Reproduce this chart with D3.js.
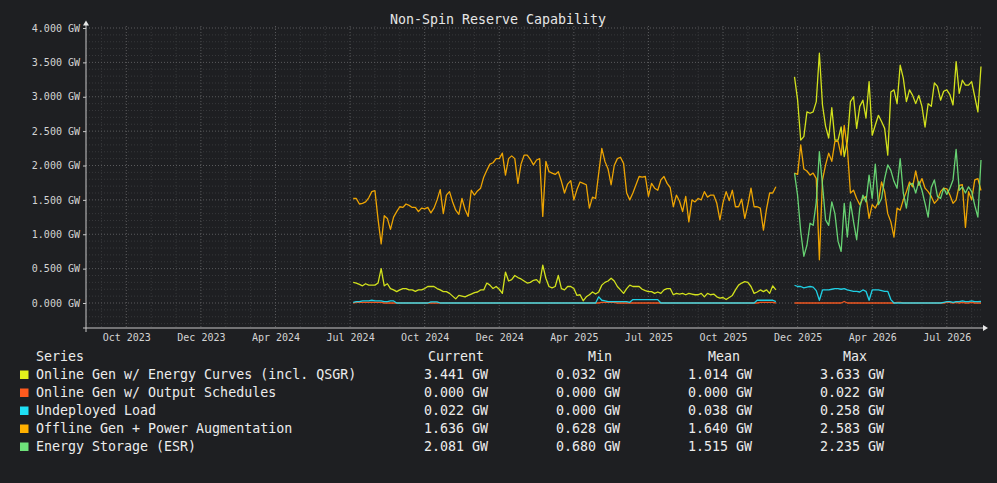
<!DOCTYPE html>
<html><head><meta charset="utf-8">
<script src="https://cdn.jsdelivr.net/npm/d3@7"></script>
<style>body{margin:0;background:#1e1f22;}svg{display:block}</style>
</head><body><svg id="c" width="997" height="483"></svg>
<script>
// ---------- DATA ----------
const chartTitle = "Non-Spin Reserve Capability";
const tickLabels = ["Oct 2023","Dec 2023","Apr 2024","Jul 2024","Oct 2024","Dec 2024","Apr 2025","Jul 2025","Oct 2025","Dec 2025","Apr 2026","Jul 2026"];
const seriesNames = ["Online Gen w/ Energy Curves (incl. QSGR)","Online Gen w/ Output Schedules","Undeployed Load","Offline Gen + Power Augmentation","Energy Storage (ESR)"];
const seriesColors = ["#e2f21c","#ff5a1e","#1fe0f5","#ffb000","#6ee27a"];
const seg1Start = 73;   // sample index of first point of first data block
const seg2Start = 215;  // sample index of first point of second data block

const onlineEnergy1 = [
0.30,0.29,0.27,0.25,0.28,0.26,0.26,0.26,0.29,0.50,
0.25,0.28,0.21,0.19,0.165,0.19,0.21,0.21,0.19,0.19,
0.17,0.19,0.19,0.21,0.24,0.24,0.24,0.21,0.19,0.165,
0.165,0.14,0.10,0.06,0.11,0.10,0.09,0.11,0.13,0.15,
0.16,0.19,0.19,0.29,0.26,0.21,0.24,0.20,0.14,0.45,
0.32,0.34,0.40,0.37,0.35,0.32,0.29,0.30,0.33,0.34,
0.29,0.55,0.36,0.24,0.22,0.24,0.40,0.21,0.19,
0.24,0.24,0.21,0.11,0.12,0.032,0.09,0.12,0.16,0.13,
0.16,0.26,0.30,0.32,0.36,0.32,0.24,0.19,0.14,0.21,
0.26,0.24,0.24,0.24,0.20,0.18,0.165,0.165,0.14,0.16,
0.14,0.19,0.21,0.21,0.12,0.14,0.13,0.14,0.12,0.14,
0.13,0.12,0.12,0.14,0.09,0.14,0.12,0.13,0.09,0.07,
0.08,0.05,0.08,0.11,0.19,0.26,0.29,0.31,0.30,0.24,
0.14,0.16,0.19,0.165,0.19,0.14,0.25,0.19];
const onlineEnergy2 = [
3.29,2.95,2.37,2.42,2.78,2.76,2.78,2.93,3.633,2.88,
2.57,2.40,2.84,2.37,2.37,2.56,2.13,2.35,2.93,3.00,
2.54,2.86,2.95,2.69,3.22,2.44,2.59,2.73,2.64,2.54,
2.15,3.07,3.10,2.90,3.46,3.27,2.93,3.10,3.02,2.90,
3.02,2.86,2.56,2.90,2.86,3.20,3.15,2.95,3.08,3.10,
3.03,2.88,3.51,3.05,3.24,3.17,3.17,3.22,3.00,2.78,3.441];

const outputSched1 = [
0,0.01,0.01,0.01,0.01,0.01,0.01,0.01,0.01,0.01,
0,0,0,0,0,0,0,0,0,0,
0,0,0,0,0,0,0,0,0,0,
0,0,0,0,0,0,0,0,0,0,
0,0,0,0,0,0,0,0,0,0,
0,0,0,0,0,0,0,0,0,0,
0,0,0,0,0,0,0,0,0,
0,0,0,0,0,0,0,0,0,0,
0,0.01,0.01,0.01,0.01,0.01,0,0,0,0,
0,0,0,0,0,0,0,0,0,0,
0,0,0,0,0,0,0,0,0,0,
0,0,0,0,0,0,0,0,0,0,
0,0,0,0,0,0,0,0,0,0,
0,0,0.01,0.01,0.01,0.01,0.01,0];
const outputSched2 = [
0,0,0,0,0,0,0,0,0,0,
0,0,0,0,0,0,0.022,0,0,0,
0,0,0,0,0,0,0,0,0,0,
0,0,0,0.01,0.01,0,0,0,0,0,
0,0,0,0,0,0,0,0,0,0.01,
0.01,0,0.01,0,0.01,0,0,0.01,0,0,0];

const undeployed1 = [
0.01,0.02,0.02,0.03,0.03,0.03,0.04,0.03,0.03,0.03,
0.02,0.02,0.03,0.03,0,0,0,0,0,0,
0,0,0,0,0,0.015,0.015,0.015,0,0,
0,0,0,0,0,0,0,0,0,0,
0,0,0,0,0,0,0,0,0,0,
0,0,0,0,0,0,0,0,0,0,
0,0,0,0,0,0,0,0,0,
0,0,0,0,0,0,0,0,0,0,
0.09,0.04,0.03,0.02,0.02,0.02,0.02,0.02,0.02,0.02,
0.01,0.05,0.05,0.05,0.05,0.05,0.05,0.05,0.05,0.05,
0,0,0,0,0,0,0,0,0,0,
0,0,0,0,0,0,0,0,0,0,
0,0,0,0,0,0,0,0,0,0,
0,0.04,0.04,0.04,0.04,0.04,0.04,0.02];
const undeployed2 = [
0.258,0.24,0.24,0.22,0.23,0.24,0.23,0.18,0.04,0.19,
0.19,0.19,0.20,0.21,0.21,0.20,0.21,0.19,0.18,0.17,
0.17,0.16,0.19,0.17,0.04,0.19,0.19,0.19,0.18,0.17,
0.17,0.05,0,0,0,0,0,0,0,0,
0,0,0,0,0,0,0,0,0.01,0.02,
0.02,0.01,0.02,0.02,0.03,0.02,0.02,0.03,0.02,0.02,0.022];

const offline1 = [
1.52,1.52,1.44,1.45,1.47,1.53,1.62,1.635,1.22,0.86,
1.27,1.23,1.07,1.25,1.33,1.40,1.39,1.44,1.42,1.39,
1.39,1.33,1.38,1.37,1.39,1.31,1.38,1.50,1.65,1.30,
1.57,1.62,1.47,1.35,1.29,1.52,1.36,1.26,1.64,1.57,
1.63,1.67,1.83,1.93,2.02,2.04,2.10,2.10,2.18,1.86,
2.10,2.14,2.10,1.74,2.02,2.15,2.15,2.09,2.01,2.08,
2.10,1.26,2.06,1.91,1.89,1.87,1.91,1.77,1.60,
1.73,1.78,1.50,1.65,1.76,1.74,1.72,1.38,1.54,1.52,
1.89,2.25,2.06,1.95,1.72,2.00,2.10,2.12,2.03,1.60,
1.50,1.60,1.72,1.84,1.83,1.84,1.55,1.74,1.67,1.64,
1.79,1.84,1.74,1.68,1.40,1.57,1.48,1.33,1.55,1.18,
1.50,1.47,1.52,1.50,1.62,1.54,1.57,1.57,1.45,1.21,
1.46,1.62,1.49,1.64,1.40,1.40,1.51,1.23,1.43,1.67,
1.40,1.40,1.38,1.06,1.37,1.60,1.60,1.69];
const offline2 = [
1.89,1.87,2.30,1.95,1.92,1.86,1.89,1.81,0.628,1.79,
2.01,2.18,2.06,2.35,2.35,2.15,2.583,2.25,1.60,1.64,
1.52,1.43,1.52,1.55,1.23,1.43,1.38,1.47,1.76,1.62,
1.30,1.18,0.96,1.38,1.35,1.50,1.62,1.76,1.69,1.92,
1.71,1.81,1.67,1.62,1.55,1.45,1.50,1.62,1.67,1.66,
1.57,1.45,1.50,1.71,1.72,1.10,1.62,1.50,1.79,1.81,1.636];

const storage2 = [
1.89,1.56,1.04,0.68,0.84,1.16,1.13,1.47,2.20,1.72,
1.21,1.13,1.47,1.30,0.90,0.75,1.45,0.96,1.47,1.18,
0.92,1.38,1.57,1.47,1.86,1.52,2.02,1.43,1.52,1.81,
2.01,1.93,1.77,1.67,2.10,1.60,1.38,1.72,1.74,1.60,
1.77,1.64,1.45,1.25,1.68,1.79,1.55,1.52,1.67,1.58,
1.67,1.79,2.235,1.64,1.69,1.60,1.69,1.62,1.42,1.25,2.081];

const statCurrent = [3.441,0.000,0.022,1.636,2.081];
const statMin     = [0.032,0.000,0.000,0.628,0.680];
const statMean    = [1.014,0.000,0.038,1.640,1.515];
const statMax     = [3.633,0.022,0.258,2.583,2.235];

// ---------- CHART ----------
(function () {
const svg = d3.select("#c");
const mono = "'DejaVu Sans Mono', monospace";
svg.append("rect").attr("width",997).attr("height",483).attr("fill","#1e1f22");

const x = d3.scaleLinear().domain([0, 264]).range([126.3, 946.8]);
const y = d3.scaleLinear().domain([0, 4]).range([303, 28]);
const pLeft = 86, pRight = 983, pBottom = 328, pTop = 26;

// grid
const g = svg.append("g");
const vTicks = d3.range(-8, 277, 8);
g.selectAll(".vg").data(vTicks).join("line")
  .attr("x1", d => x(d)).attr("x2", d => x(d))
  .attr("y1", pTop).attr("y2", pBottom)
  .attr("stroke", d => d % 24 === 0 ? "#5a5b5d" : "#37383b")
  .attr("stroke-dasharray", "1,2");
const hTicks = d3.range(-3, 41).map(d => d / 10);
g.selectAll(".hg").data(hTicks).join("line")
  .attr("x1", pLeft).attr("x2", pRight)
  .attr("y1", d => y(d)).attr("y2", d => y(d))
  .attr("stroke", d => Math.round(d * 10) % 5 === 0 ? "#5a5b5d" : "#37383b")
  .attr("stroke-dasharray", "1,2");

// axes
const yAxis = d3.axisLeft(y).tickValues(d3.range(0, 4.01, 0.5))
  .tickFormat(d => d3.format(".3f")(d) + " GW").tickSize(3).tickPadding(3);
const ya = svg.append("g").attr("transform", `translate(${pLeft},0)`).call(yAxis);
ya.select(".domain").remove();
ya.selectAll("line").attr("stroke", "#c8c8c8");
ya.selectAll("text").attr("fill", "#d4d4d4").style("font-family", mono).style("font-size", "10px");

const xAxis = d3.axisBottom(x).tickValues(d3.range(0, 265, 24))
  .tickFormat((d, i) => tickLabels[i]).tickSize(0).tickPadding(6);
const xa = svg.append("g").attr("transform", `translate(0,${pBottom})`).call(xAxis);
xa.select(".domain").remove();
xa.selectAll("text").attr("fill", "#d4d4d4").style("font-family", mono).style("font-size", "10px");

svg.append("line").attr("x1", pLeft).attr("x2", pLeft).attr("y1", pBottom + 4).attr("y2", 24)
  .attr("stroke", "#c8c8c8").attr("stroke-width", 1);
svg.append("line").attr("x1", pLeft - 3).attr("x2", pRight + 1).attr("y1", pBottom).attr("y2", pBottom)
  .attr("stroke", "#c8c8c8").attr("stroke-width", 1);
svg.append("path").attr("d", `M${pLeft - 3},25.5 L${pLeft},20.5 L${pLeft + 3},25.5 Z`).attr("fill", "#e8e8e8");
svg.append("path").attr("d", `M${pRight},${pBottom - 3} L${pRight + 5},${pBottom} L${pRight},${pBottom + 3} Z`).attr("fill", "#e8e8e8");

// series
const series = [
  [onlineEnergy1, onlineEnergy2],
  [outputSched1, outputSched2],
  [undeployed1, undeployed2],
  [offline1, offline2],
  [null, storage2]
];
const line = d3.line().x(d => x(d[0])).y(d => y(d[1]));
const lg = svg.append("g");
series.forEach((segs, si) => {
  [seg1Start, seg2Start].forEach((st, k) => {
    const arr = segs[k];
    if (!arr) return;
    const pts = arr.map((v, i) => [st + i, v]);
    lg.append("path").attr("d", line(pts)).attr("fill", "none")
      .attr("stroke", seriesColors[si]).attr("stroke-width", 1.3)
      .attr("stroke-linejoin", "round").attr("opacity", 0.92);
  });
});

// title
svg.append("text").attr("x", 498).attr("y", 19).attr("text-anchor", "middle")
  .attr("dominant-baseline", "central").attr("fill", "#e6e6e6")
  .style("font-family", mono).style("font-size", "13.3px").text(chartTitle);

// legend
const fmt = d => d3.format(".3f")(d) + " GW";
const headY = 356, rowY0 = 374, rowH = 18;
const headers = ["Current", "Min", "Mean", "Max"];
const headX = [456, 600, 724, 855];
const valX = [488, 620, 752, 884];
const lgd = svg.append("g").style("font-family", mono).style("font-size", "13.3px").attr("fill", "#ececec");
lgd.append("text").attr("x", 36).attr("y", headY).attr("dominant-baseline", "central").text("Series");
headers.forEach((h, i) => lgd.append("text").attr("x", headX[i]).attr("y", headY)
  .attr("text-anchor", "middle").attr("dominant-baseline", "central").text(h));
const stats = [statCurrent, statMin, statMean, statMax];
seriesNames.forEach((n, r) => {
  const cy = rowY0 + r * rowH;
  lgd.append("rect").attr("x", 20).attr("y", cy - 3.5).attr("width", 8.5).attr("height", 8.5).attr("fill", seriesColors[r]);
  lgd.append("text").attr("x", 36).attr("y", cy).attr("dominant-baseline", "central").text(n);
  stats.forEach((s, c) => lgd.append("text").attr("x", valX[c]).attr("y", cy)
    .attr("text-anchor", "end").attr("dominant-baseline", "central").text(fmt(s[r])));
});
})();
</script>
</body></html>
